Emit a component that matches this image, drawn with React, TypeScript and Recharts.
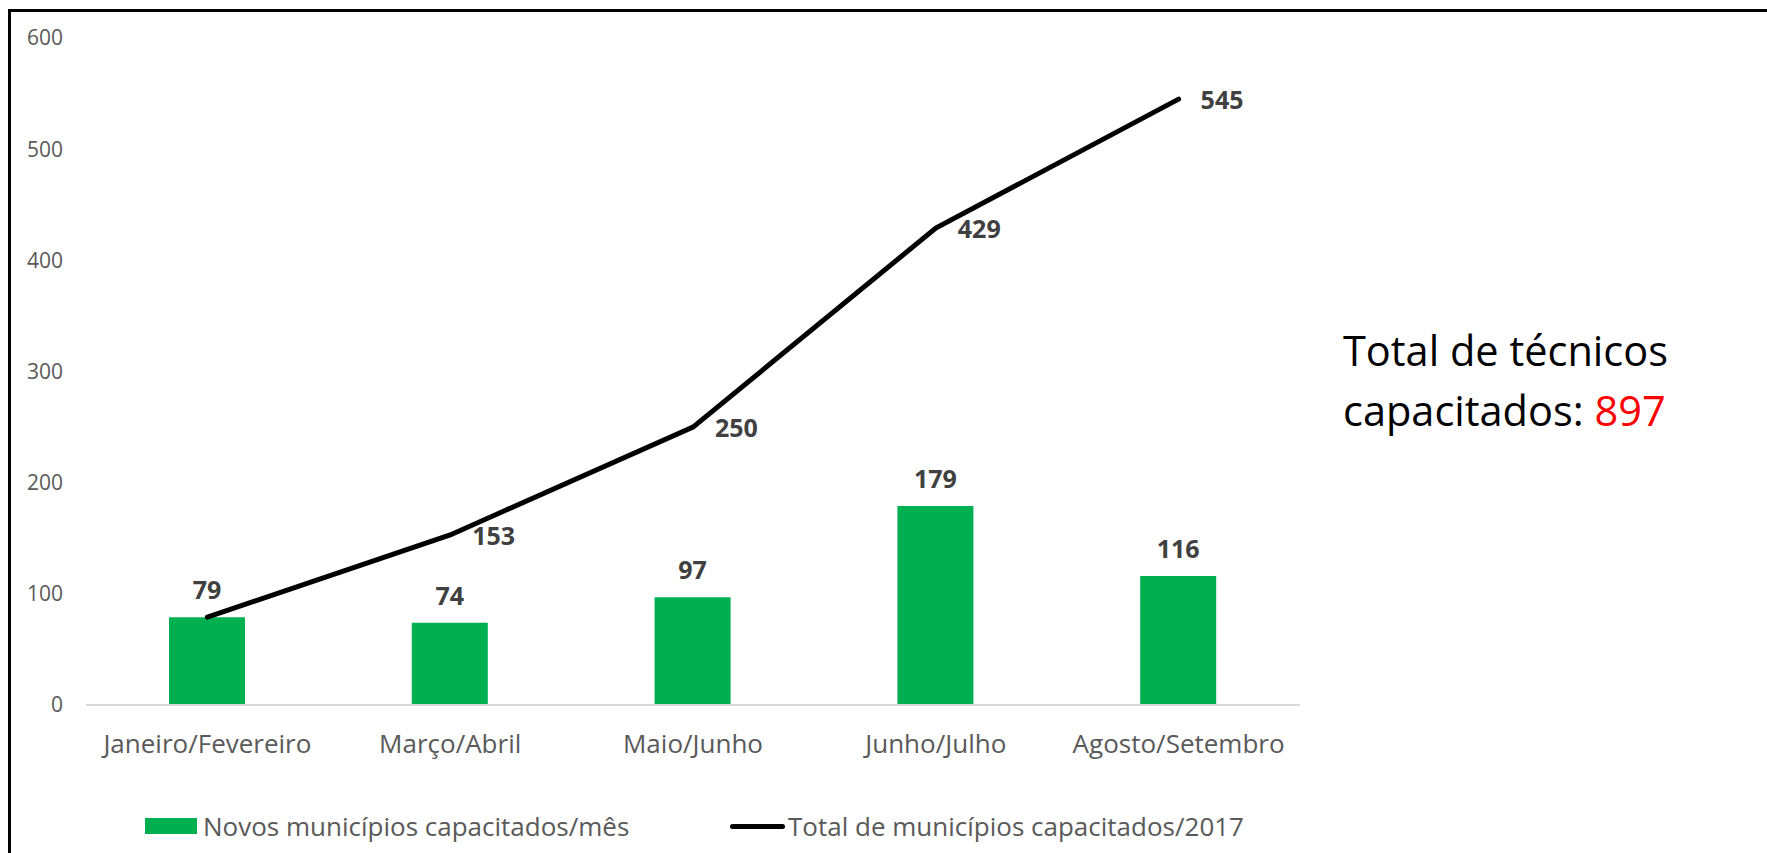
import { ComposedChart, Bar, Line, XAxis, YAxis, LabelList } from "recharts";

const periods = ["Janeiro/Fevereiro", "Março/Abril", "Maio/Junho", "Junho/Julho", "Agosto/Setembro"];
const novos = [79, 74, 97, 179, 116];
const totalAcumulado = [79, 153, 250, 429, 545];
const yTicks = [0, 100, 200, 300, 400, 500, 600];

const barName = "Novos municípios capacitados/mês";
const lineName = "Total de municípios capacitados/2017";

const GREEN = "#00B050";
const FONT = "'Open Sans', sans-serif";

const data = periods.map((p, i) => ({
  period: p,
  novos: novos[i],
  total: totalAcumulado[i],
}));

// line labels sit to the right of each point; the first one is hidden behind the bar label
function LineLabel(props: any) {
  const { x, y, value, index } = props;
  if (index === 0) return null;
  return (
    <text
      x={x + 22}
      y={y}
      fill="#404040"
      fontSize={25}
      fontWeight={700}
      fontFamily={FONT}
      dominantBaseline="central"
      textAnchor="start"
    >
      {value}
    </text>
  );
}

export default function App() {
  return (
    <div
      style={{
        position: "fixed",
        left: 0,
        top: 0,
        width: 1767,
        height: 853,
        overflow: "hidden",
        background: "#fff",
        fontFamily: FONT,
      }}
    >
      <div
        style={{
          position: "absolute",
          left: 8,
          top: 9,
          width: 1800,
          height: 900,
          borderLeft: "3px solid #000",
          borderTop: "3px solid #000",
        }}
      />
      <div style={{ position: "absolute", left: 0, top: 0 }}>
        <ComposedChart
          width={1767}
          height={853}
          data={data}
          margin={{ top: 38, right: 467, left: 0, bottom: 88 }}
        >
          <XAxis
            dataKey="period"
            height={60}
            tickLine={false}
            axisLine={{ stroke: "#d9d9d9", strokeWidth: 2 }}
            tickSize={0}
            tickMargin={30}
            tick={{ fill: "#595959", fontSize: 26, fontFamily: FONT }}
            interval={0}
          />
          <YAxis
            width={86}
            domain={[0, 600]}
            ticks={yTicks}
            axisLine={false}
            tickLine={false}
            tickSize={0}
            tickMargin={23}
            tick={{ fill: "#595959", fontSize: 21, fontFamily: FONT }}
          />
          <Bar dataKey="novos" name={barName} fill={GREEN} barSize={76} isAnimationActive={false}>
            <LabelList
              dataKey="novos"
              position="top"
              offset={18}
              fill="#404040"
              fontSize={25}
              fontWeight={700}
              fontFamily={FONT}
            />
          </Bar>
          <Line
            dataKey="total"
            name={lineName}
            type="linear"
            stroke="#000"
            strokeWidth={5}
            strokeLinecap="round"
            dot={false}
            activeDot={false}
            isAnimationActive={false}
          >
            <LabelList dataKey="total" content={<LineLabel />} />
          </Line>
        </ComposedChart>
      </div>

      {/* legend */}
      <div style={{ position: "absolute", left: 145, top: 810, height: 32, display: "flex", alignItems: "center" }}>
        <div style={{ width: 52, height: 16, background: GREEN, marginRight: 6 }} />
        <span style={{ fontSize: 26, color: "#595959", lineHeight: "32px" }}>{barName}</span>
      </div>
      <div style={{ position: "absolute", left: 730, top: 810, height: 32, display: "flex", alignItems: "center" }}>
        <div style={{ width: 55, height: 5, background: "#000", borderRadius: 3, marginRight: 3 }} />
        <span style={{ fontSize: 26, color: "#595959", lineHeight: "32px" }}>{lineName}</span>
      </div>

      {/* side note */}
      <div
        style={{
          position: "absolute",
          left: 1343,
          top: 320,
          fontSize: 41.5,
          lineHeight: "60px",
          color: "#000",
          whiteSpace: "nowrap",
        }}
      >
        <div>Total de técnicos</div>
        <div>
          capacitados: <span style={{ color: "#FF0000" }}>897</span>
        </div>
      </div>
    </div>
  );
}
